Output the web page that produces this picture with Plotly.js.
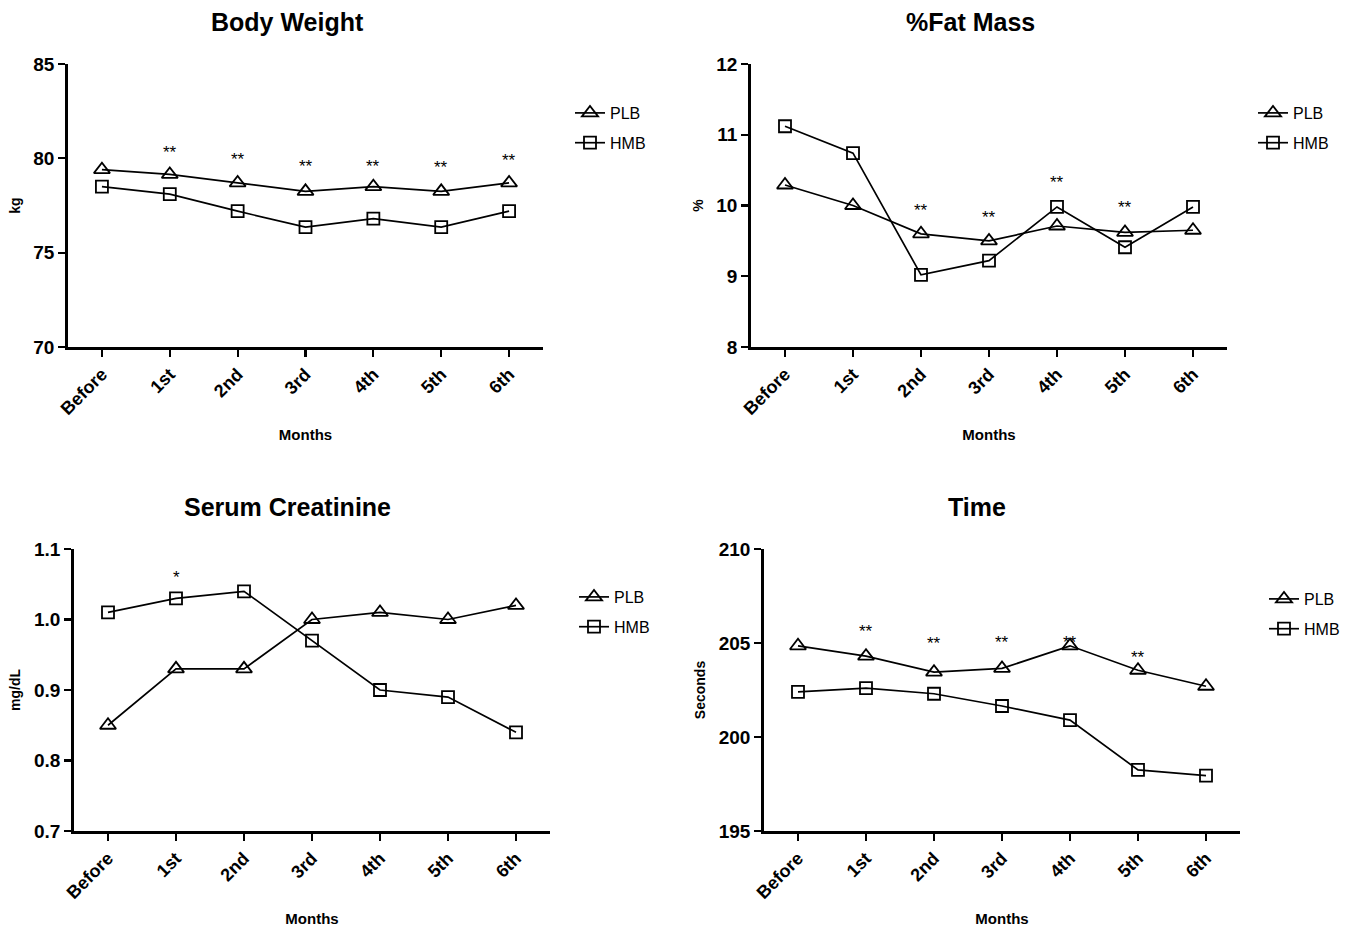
<!DOCTYPE html>
<html><head><meta charset="utf-8">
<script src="https://cdn.plot.ly/plotly-3.0.1.min.js"></script>
<style>html,body{margin:0;padding:0;background:#fff}#chart{width:1365px;height:928px}</style>
</head><body><div id="chart"></div>
<script>
const months = ["Before","1st","2nd","3rd","4th","5th","6th"];
const seriesNames = ["PLB","HMB"];

const weightPLB = [79.4,79.15,78.7,78.25,78.5,78.25,78.7];
const weightHMB = [78.5,78.1,77.2,76.35,76.8,76.35,77.2];
const fatPLB = [10.29,10.0,9.6,9.5,9.71,9.62,9.65];
const fatHMB = [11.12,10.74,9.02,9.22,9.98,9.41,9.98];
const creatPLB = [0.85,0.93,0.93,1.00,1.01,1.00,1.02];
const creatHMB = [1.01,1.03,1.04,0.97,0.90,0.89,0.84];
const timePLB = [204.85,204.3,203.45,203.65,204.85,203.55,202.7];
const timeHMB = [202.4,202.6,202.3,201.65,200.9,198.25,197.95];

const weightSig = ["","**","**","**","**","**","**"];
const weightSigY = [null,80.3,79.95,79.55,79.55,79.5,79.9];
const fatSig = ["","","**","**","**","**",""];
const fatSigY = [null,null,9.93,9.83,10.33,9.97,null];
const creatSig = ["","*","","","","",""];
const creatSigY = [null,1.06,null,null,null,null,null];
const timeSig = ["","**","**","**","**","**",""];
const timeSigY = [null,205.6,204.95,205.05,205.05,204.25,null];

const panels = [
  {title:"Body Weight", ytitle:"kg", plb:weightPLB, hmb:weightHMB, sig:weightSig, sigY:weightSigY, yrange:[70,85], dtick:5, tickformat:"",
   xd:[68,543], yd:[64,347], leg:[570,96], tx:287, ty:22},
  {title:"%Fat Mass", ytitle:"%", plb:fatPLB, hmb:fatHMB, sig:fatSig, sigY:fatSigY, yrange:[8,12], dtick:1, tickformat:"",
   xd:[751,1227], yd:[64,347], leg:[1253,96], tx:970, ty:22},
  {title:"Serum Creatinine", ytitle:"mg/dL", plb:creatPLB, hmb:creatHMB, sig:creatSig, sigY:creatSigY, yrange:[0.7,1.1], dtick:0.1, tickformat:".1f",
   xd:[74,550], yd:[549,831], leg:[574,580], tx:287, ty:507},
  {title:"Time", ytitle:"Seconds", plb:timePLB, hmb:timeHMB, sig:timeSig, sigY:timeSigY, yrange:[195,210], dtick:5, tickformat:"",
   xd:[764,1240], yd:[549,831], leg:[1264,582], tx:977, ty:507}
];

const W = 1365, H = 928;
const fam = "Liberation Sans, Arial, sans-serif";
const traces = [];
const layout = {
  width: W, height: H,
  margin: {l:0, r:0, t:0, b:0},
  paper_bgcolor: "#fff", plot_bgcolor: "#fff",
  font: {family: fam, color: "#000"},
  annotations: [],
  showlegend: true
};

panels.forEach((p, i) => {
  const n = i + 1;
  const xa = "x" + (n === 1 ? "" : n), ya = "y" + (n === 1 ? "" : n);
  const legName = "legend" + (n === 1 ? "" : n);
  [[p.plb, "triangle-up-open", seriesNames[0], 14], [p.hmb, "square-open", seriesNames[1], 12]].forEach(([vals, sym, name, sz]) => {
    traces.push({
      type: "scatter", mode: "lines+markers", x: months, y: vals, name: name,
      xaxis: xa, yaxis: ya, legend: legName, legendgroup: name + n,
      line: {color: "#000", width: 1.7},
      marker: {symbol: sym, size: sz, color: "#000", line: {width: 1.8, color: "#000"}}
    });
  });
  const axKeyX = "xaxis" + (n === 1 ? "" : n), axKeyY = "yaxis" + (n === 1 ? "" : n);
  layout[axKeyX] = {
    domain: [p.xd[0] / W, p.xd[1] / W], anchor: ya, type: "category",
    range: [-0.5, 6.5], showgrid: false, zeroline: false,
    showline: true, linecolor: "#000", linewidth: 2.8,
    ticks: "outside", ticklen: 7, tickwidth: 2.2, tickcolor: "#000",
    tickangle: -45, tickfont: {family: fam, size: 18, weight: "bold", color: "#000"},
    title: {text: "Months", font: {family: fam, size: 15, weight: "bold"}, standoff: 12},
    fixedrange: true
  };
  layout[axKeyY] = {
    domain: [1 - p.yd[1] / H, 1 - p.yd[0] / H], anchor: xa,
    range: p.yrange, dtick: p.dtick, tick0: p.yrange[0], tickformat: p.tickformat,
    showgrid: false, zeroline: false,
    showline: true, linecolor: "#000", linewidth: 2.8,
    ticks: "outside", ticklen: 7, tickwidth: 2.2, tickcolor: "#000",
    tickfont: {family: fam, size: 19, weight: "bold", color: "#000"},
    title: {text: p.ytitle, font: {family: fam, size: 14, weight: "bold"}, standoff: 10},
    fixedrange: true
  };
  layout[legName] = {
    x: p.leg[0] / W, y: 1 - p.leg[1] / H, xanchor: "left", yanchor: "top",
    xref: "paper", yref: "paper",
    font: {family: fam, size: 16, color: "#000"},
    bgcolor: "rgba(0,0,0,0)", borderwidth: 0,
    itemwidth: 30, tracegroupgap: 6, traceorder: "grouped"
  };
  layout.annotations.push({
    text: p.title, xref: "paper", yref: "paper", x: p.tx / W, y: 1 - p.ty / H,
    xanchor: "center", yanchor: "middle", showarrow: false,
    font: {family: fam, size: 25, weight: "bold", color: "#000"}
  });
  p.sig.forEach((s, j) => {
    if (!s) return;
    layout.annotations.push({
      text: s, xref: xa, yref: ya, x: months[j], y: p.sigY[j],
      xanchor: "center", yanchor: "middle", showarrow: false,
      font: {family: fam, size: 17, color: "#000"}
    });
  });
});

Plotly.newPlot("chart", traces, layout, {displayModeBar: false, staticPlot: true});
</script>
</body></html>
